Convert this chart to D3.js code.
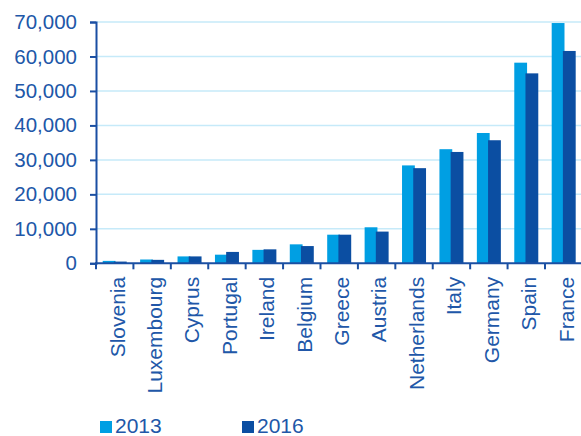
<!DOCTYPE html>
<html lang="en">
<head>
<meta charset="utf-8">
<title>2013 vs 2016</title>
<script src="https://d3js.org/d3.v7.min.js"></script>
<style>
* { margin: 0; padding: 0; }
body { background: #fff; font-family: 'Liberation Sans', Arial, sans-serif; }
</style>
</head>
<body>
<script>
// data
const countries = ["Slovenia","Luxembourg","Cyprus","Portugal","Ireland","Belgium","Greece","Austria","Netherlands","Italy","Germany","Spain","France"];
const values2013 = [700, 1100, 2000, 2500, 3900, 5500, 8300, 10450, 28400, 33100, 37800, 58200, 69700];
const values2016 = [500, 1000, 2000, 3300, 4050, 5000, 8300, 9200, 27600, 32300, 35700, 55100, 61600];
const seriesNames = ["2013", "2016"];
const yTicks = [0, 10000, 20000, 30000, 40000, 50000, 60000, 70000];

let w = 581, h = 436;
let padLeft = 96, padRight = 582.4, padTop = 22, axisY = 263.3;
let textCol = "#2157a8", axisCol = "#1a4fa3";
let colors = ["#009fe3", "#0b4ea2"];

let svg = d3.select("body").append("svg")
  .attr("width", w).attr("height", h)
  .style("font-family", "'Liberation Sans', Arial, sans-serif");

let x = d3.scaleBand().domain(countries).range([padLeft, padRight]).paddingInner(0).paddingOuter(0);
let y = d3.scaleLinear().domain([0, 70000]).range([axisY, padTop]);

// gridlines
svg.append("g").selectAll("line")
  .data(yTicks.slice(1))
  .enter().append("line")
  .attr("x1", padLeft).attr("x2", w)
  .attr("y1", d => y(d)).attr("y2", d => y(d))
  .attr("stroke", "#c6eaf9").attr("stroke-width", 1.5);

// bars
let barW = 12.8, step = 11.2;
let rows = countries.map((c, i) => ({c: c, v: [values2013[i], values2016[i]]}));
seriesNames.forEach((s, k) => {
  svg.append("g").selectAll("rect")
    .data(rows)
    .enter().append("rect")
    .attr("x", d => x(d.c) + x.bandwidth() / 2 - (barW + step) / 2 + k * step)
    .attr("y", d => y(d.v[k]))
    .attr("width", barW)
    .attr("height", d => y(0) - y(d.v[k]))
    .attr("fill", colors[k]);
});

// y axis
let yAxis = svg.append("g")
  .attr("transform", "translate(" + padLeft + ",0)")
  .call(d3.axisLeft(y).tickValues(yTicks).tickSize(6).tickPadding(13).tickFormat(d3.format(",")));
yAxis.select(".domain").attr("stroke", axisCol).attr("stroke-width", 2);
yAxis.selectAll(".tick line").attr("stroke", axisCol).attr("stroke-width", 2);
yAxis.selectAll(".tick text").attr("fill", textCol).attr("font-size", 20.5)
  .attr("font-family", "'Liberation Sans', Arial, sans-serif");

// x axis: ticks on category boundaries
let xg = svg.append("g");
xg.append("line")
  .attr("x1", padLeft - 1).attr("x2", w)
  .attr("y1", axisY).attr("y2", axisY)
  .attr("stroke", axisCol).attr("stroke-width", 2);
xg.selectAll(".tk")
  .data(countries)
  .enter().append("line")
  .attr("x1", d => x(d)).attr("x2", d => x(d))
  .attr("y1", axisY).attr("y2", axisY + 6)
  .attr("stroke", axisCol).attr("stroke-width", 2);
xg.selectAll("text")
  .data(countries)
  .enter().append("text")
  .text(d => d)
  .attr("transform", d => "translate(" + (x(d) + x.bandwidth() / 2) + "," + (axisY + 13.5) + ") rotate(-90)")
  .attr("dy", "0.47em")
  .attr("text-anchor", "end")
  .attr("font-size", 21)
  .attr("fill", textCol);

// legend
let legX = [100, 242];
seriesNames.forEach((s, k) => {
  svg.append("rect")
    .attr("x", legX[k]).attr("y", 421)
    .attr("width", 12).attr("height", 12)
    .attr("fill", colors[k]);
  svg.append("text")
    .text(s)
    .attr("x", legX[k] + 15).attr("y", 433)
    .attr("font-size", 21)
    .attr("fill", textCol);
});
</script>
</body>
</html>
